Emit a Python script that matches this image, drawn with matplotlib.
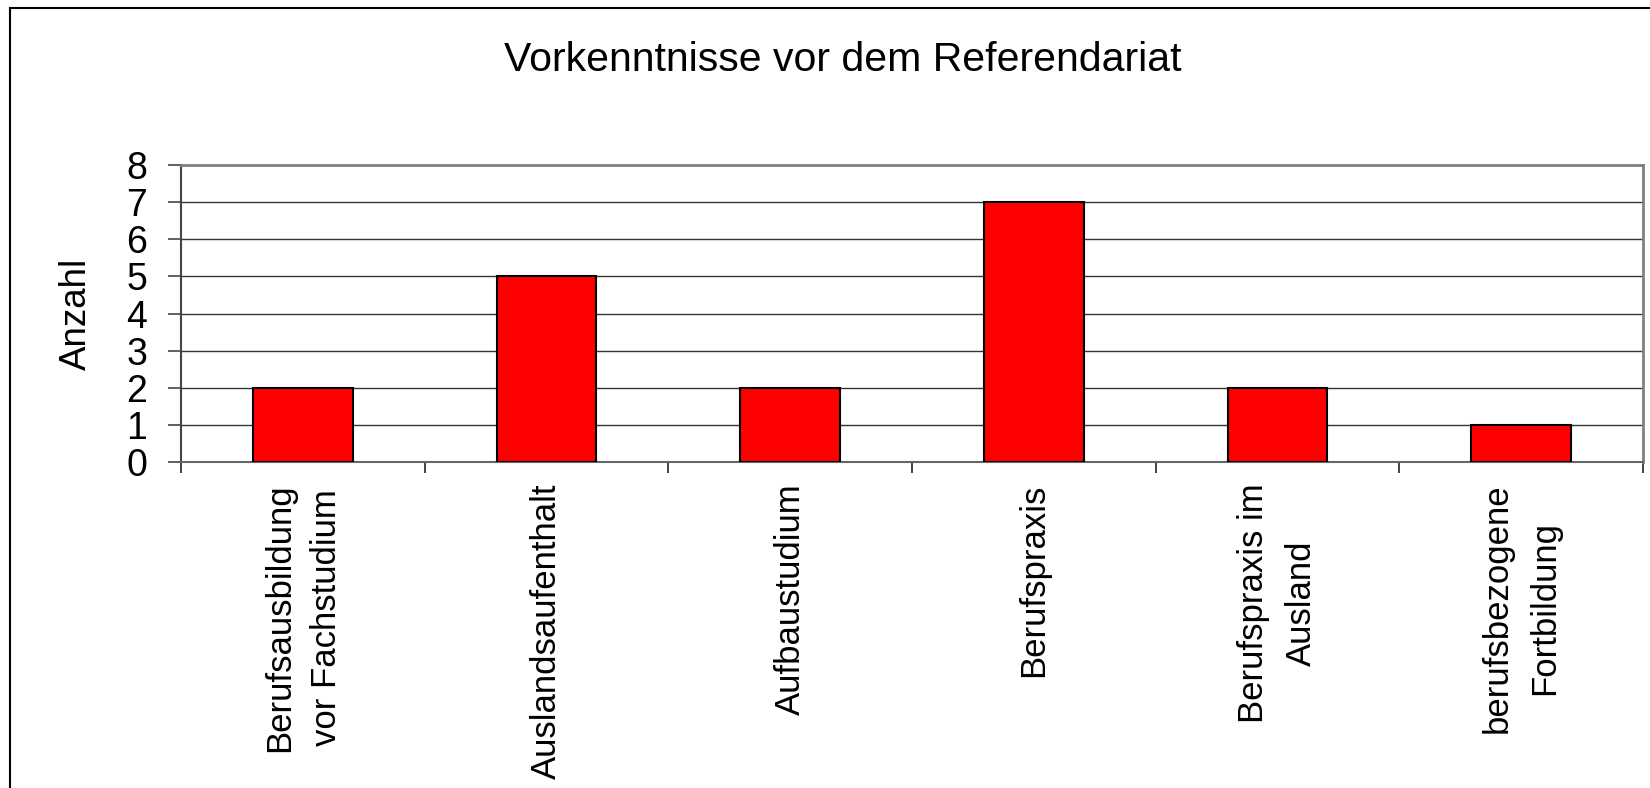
import matplotlib
matplotlib.use('Agg')
import matplotlib.pyplot as plt
from matplotlib.patches import Rectangle

# data
categories = [
    "Berufsausbildung\nvor Fachstudium",
    "Auslandsaufenthalt",
    "Aufbaustudium",
    "Berufspraxis",
    "Berufspraxis im\nAusland",
    "berufsbezogene\nFortbildung",
]
counts = [2, 5, 2, 7, 2, 1]
y_ticks = [0, 1, 2, 3, 4, 5, 6, 7, 8]

plt.rcParams['font.family'] = ['Liberation Sans', 'DejaVu Sans']

fig = plt.figure(figsize=(16.5, 7.88), dpi=100)
ax = fig.add_axes([181 / 1650, 1 - 462 / 788, 1462 / 1650, 297 / 788])

x = list(range(len(categories)))
ax.bar(x, counts, width=0.41, color='#ff0000', edgecolor='black', linewidth=1.5, zorder=3)

ax.set_xlim(-0.5, len(categories) - 0.5)
ax.set_ylim(0, 8)
ax.set_yticks(y_ticks)
ax.set_yticklabels([str(v) for v in y_ticks], fontsize=27)
ax.yaxis.grid(True, color='#333333', linewidth=1.0, zorder=0)

# category ticks between bars, labels at bar centres
ax.set_xticks([i - 0.5 for i in range(len(categories) + 1)])
ax.set_xticklabels([])
ax.set_xticks(x, minor=True)
ax.set_xticklabels(categories, minor=True, rotation=90, fontsize=25,
                   ha='center', va='top', multialignment='center', linespacing=1.55)
ax.tick_params(axis='x', which='minor', length=0, pad=15.5)
ax.tick_params(axis='x', which='major', length=8, width=1.2, color='#222222')
ax.tick_params(axis='y', length=9.4, width=1.2, color='#444444', pad=15)

for side in ['top', 'right']:
    ax.spines[side].set_color('#808080')
    ax.spines[side].set_linewidth(2)
ax.spines['left'].set_color('#444444')
ax.spines['left'].set_linewidth(1.5)
ax.spines['bottom'].set_color('#666666')
ax.spines['bottom'].set_linewidth(1.5)

ax.set_ylabel("Anzahl", fontsize=26.5, labelpad=23)

fig.text(843 / 1650, 1 - 60 / 788, "Vorkenntnisse vor dem Referendariat",
         fontsize=29.5, ha='center', va='center')

# outer chart border (only left and top edges visible)
fig.patches.append(Rectangle((10 / 1650, -0.2), 1.2, (788 - 8) / 788 + 0.2,
                             transform=fig.transFigure, fill=False,
                             edgecolor='black', linewidth=1.5))

fig.savefig('out.png', dpi=100)
plt.close(fig)
